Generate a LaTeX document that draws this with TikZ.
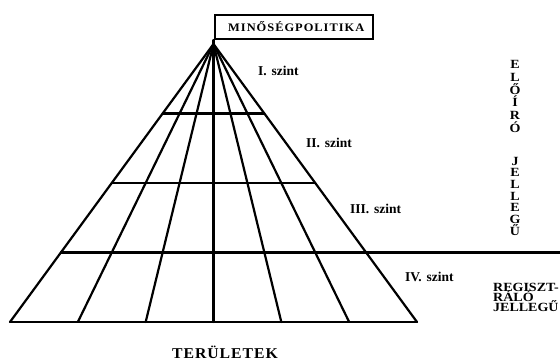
\documentclass[tikz,border=0pt]{standalone}
\usepackage{fontspec}
\usepackage{graphicx}
\setmainfont{Liberation Serif}
\usetikzlibrary{calc}
\newcommand\wst[1]{\scalebox{1.12}[1]{#1}}
\begin{document}
\begin{tikzpicture}[x=1pt,y=-1pt,
  ln/.style={line width=2.2pt, line cap=round, line join=round},
  lvl/.style={font=\bfseries\fontsize{13.5}{15}\selectfont, anchor=west, inner sep=0pt},
  vl/.style={font=\bfseries\fontsize{12.5}{14}\selectfont, inner sep=0pt, anchor=base},
  rl/.style={font=\bfseries\fontsize{12.5}{14}\selectfont, inner sep=0pt, anchor=base west},
  boxst/.style={draw, line width=2pt, minimum width=158.5pt, minimum height=24pt, inner sep=0pt, anchor=south west,
    font=\bfseries\fontsize{11.5}{12}\selectfont\addfontfeature{LetterSpace=8}}]
\useasboundingbox (0,0) rectangle (560,361);
% apex and base points
\coordinate (A) at (213.5,44);
\foreach \i/\x in {0/10,1/77.83,2/145.67,3/213.5,4/281.33,5/349.17,6/417}
  \coordinate (B\i) at (\x,322);
\coordinate (R) at (560,0);
% rays
\foreach \i in {0,...,6} \draw[ln] (A) -- (B\i);
% base and levels
\draw[ln] (B0) -- (B6);
\coordinate (L1a) at ($(A)!0.25!(B0)$);
\coordinate (L1b) at ($(A)!0.25!(B6)$);
\coordinate (L2a) at ($(A)!0.5!(B0)$);
\coordinate (L2b) at ($(A)!0.5!(B6)$);
\coordinate (L3a) at ($(A)!0.75!(B0)$);
\draw[ln] (L1a) -- (L1b);
\draw[ln] (L2a) -- (L2b);
\draw[ln] (L3a) -- (L3a -| R);
% title box
\node[boxst] (MP) at (213.5,40) {\hspace{5pt}\scalebox{1.08}[1]{MINŐSÉGPOLITIKA}};
\draw[ln] (A) -- (MP.south west);
% level labels
\node[lvl] (S1) at (258,71) {I.\hspace{0.35em}szint};
\node[lvl] (S2) at (306,143) {II.\hspace{0.35em}szint};
\node[lvl] (S3) at (350,209) {III.\hspace{0.35em}szint};
\node[lvl] (S4) at (405,277) {IV.\hspace{0.35em}szint};
% right texts: vertical stacks
\foreach \c [count=\i] in {E,L,Ő,Í,R,Ó}
  \node[vl] (VA\i) at (515,{69+(\i-1)*12.6}) {\wst{\c}};
\foreach \c [count=\i] in {J,E,L,L,E,G,Ű}
  \node[vl] (VB\i) at (515,{165+(\i-1)*11.7}) {\wst{\c}};
% right texts: lower block
\node[rl] (RJ1) at (493,291.5) {\wst{REGISZT-}};
\node[rl] (RJ2) at (493,301.5) {\wst{RÁLÓ}};
\node[rl] (RJ3) at (493,311) {\wst{JELLEGŰ}};
% bottom label
\node[font=\bfseries\fontsize{15}{16}\selectfont\addfontfeature{LetterSpace=6}, inner sep=0pt] (T) at (225,352) {\scalebox{1.05}[1]{TERÜLETEK}};
\end{tikzpicture}
\end{document}
